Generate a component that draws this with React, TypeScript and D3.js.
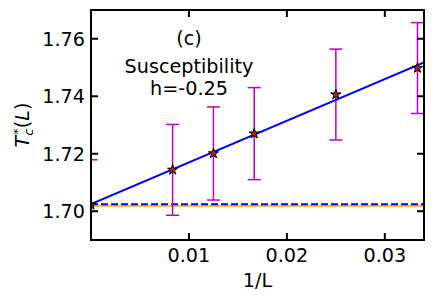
import React from "react";
import * as d3 from "d3";

const invL = [0, 0.008333, 0.0125, 0.016667, 0.025, 0.033333];
const tcValues = [1.7022, 1.7144, 1.7201, 1.727, 1.7406, 1.7498];
const tcErrors = [0.0157, 0.0158, 0.0162, 0.016, 0.0158, 0.0158];
const fitIntercept = 1.7025;
const fitSlope = 1.45;
const dashedLevel = 1.7024;
const orangeLevel = 1.7018;
const xTicks = [0.01, 0.02, 0.03];
const yTicks = [1.7, 1.72, 1.74, 1.76];

const W = 434;
const H = 300;
const M = { left: 91, right: 424, top: 10, bottom: 240 };
const FONT = "DejaVu Sans, sans-serif";
const FS = 19.2;

export default function App() {
  const x = d3.scaleLinear().domain([0, 0.034]).range([M.left, M.right]);
  const y = d3.scaleLinear().domain([1.69, 1.77]).range([M.bottom, M.top]);
  const fit = d3
    .line<number>()
    .x((d) => x(d))
    .y((d) => y(fitIntercept + fitSlope * d));
  const star = d3.symbol().type(d3.symbolStar).size(32)() as string;
  const tickLen = 7;
  const cap = 6.5;

  return (
    <div style={{ position: "fixed", left: 0, top: 0 }}>
      <svg width={W} height={H} style={{ display: "block", background: "#fff" }}>
        <defs>
          <clipPath id="plotclip">
            <rect x={M.left} y={M.top} width={M.right - M.left} height={M.bottom - M.top} />
          </clipPath>
        </defs>
        <g clipPath="url(#plotclip)">
          <line x1={x(0)} x2={x(0.034)} y1={y(orangeLevel)} y2={y(orangeLevel)} stroke="#ffa500" strokeWidth={1.5} />
          <line x1={x(0)} x2={x(0.034)} y1={y(dashedLevel)} y2={y(dashedLevel)} stroke="#0000ff" strokeWidth={2} strokeDasharray="7,3" />
          {invL.map((v, i) => (
            <g key={"e" + i} stroke="#bf00bf" strokeWidth={1.5}>
              <line x1={x(v)} x2={x(v)} y1={y(tcValues[i] - tcErrors[i])} y2={y(tcValues[i] + tcErrors[i])} />
              <line x1={x(v) - cap} x2={x(v) + cap} y1={y(tcValues[i] - tcErrors[i])} y2={y(tcValues[i] - tcErrors[i])} />
              <line x1={x(v) - cap} x2={x(v) + cap} y1={y(tcValues[i] + tcErrors[i])} y2={y(tcValues[i] + tcErrors[i])} />
            </g>
          ))}
          <path d={fit([0, 0.034]) as string} fill="none" stroke="#0000ff" strokeWidth={2} />
          {invL.map((v, i) => (
            <path key={"m" + i} d={star} transform={`translate(${x(v)},${y(tcValues[i])})`} fill="#b22222" stroke="#000" strokeWidth={1} />
          ))}
        </g>
        <rect x={M.left} y={M.top} width={M.right - M.left} height={M.bottom - M.top} fill="none" stroke="#000" strokeWidth={2} />
        {xTicks.map((t) => (
          <g key={"x" + t}>
            <line x1={x(t)} x2={x(t)} y1={M.bottom} y2={M.bottom - tickLen} stroke="#000" strokeWidth={2} />
            <line x1={x(t)} x2={x(t)} y1={M.top} y2={M.top + tickLen} stroke="#000" strokeWidth={2} />
            <text x={x(t)} y={262} textAnchor="middle" fontFamily={FONT} fontSize={FS}>{t.toFixed(2)}</text>
          </g>
        ))}
        {yTicks.map((t) => (
          <g key={"y" + t}>
            <line x1={M.left} x2={M.left + tickLen} y1={y(t)} y2={y(t)} stroke="#000" strokeWidth={2} />
            <line x1={M.right} x2={M.right - tickLen} y1={y(t)} y2={y(t)} stroke="#000" strokeWidth={2} />
            <text x={85} y={y(t) + 7} textAnchor="end" fontFamily={FONT} fontSize={FS}>{t.toFixed(2)}</text>
          </g>
        ))}
        <text x={(M.left + M.right) / 2} y={287} textAnchor="middle" fontFamily={FONT} fontSize={FS}>1/L</text>
        <text transform={`translate(29,${(M.top + M.bottom) / 2}) rotate(-90)`} textAnchor="middle" fontFamily={FONT} fontSize={FS}>
          <tspan fontStyle="italic">T</tspan>
          <tspan fontStyle="italic" fontSize={13} dy={4}>c</tspan>
          <tspan fontSize={13} dx={-6} dy={-11}>*</tspan>
          <tspan dy={7}>(</tspan>
          <tspan fontStyle="italic">L</tspan>
          <tspan>)</tspan>
        </text>
        <text x={189} y={45} textAnchor="middle" fontFamily={FONT} fontSize={FS}>(c)</text>
        <text x={189} y={73} textAnchor="middle" fontFamily={FONT} fontSize={FS}>Susceptibility</text>
        <text x={189} y={95} textAnchor="middle" fontFamily={FONT} fontSize={FS}>h=-0.25</text>
      </svg>
    </div>
  );
}
